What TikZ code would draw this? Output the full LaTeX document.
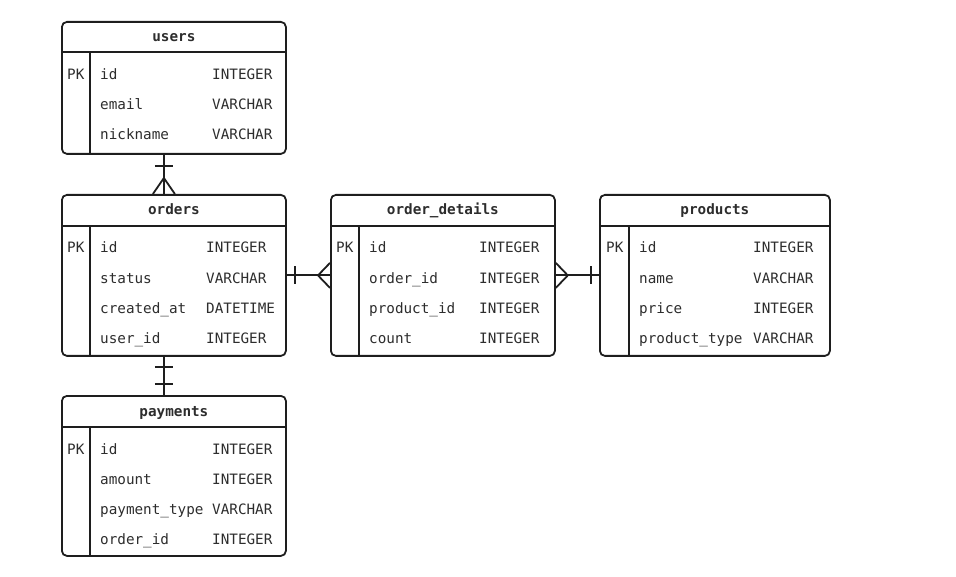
\documentclass[tikz,border=0pt]{standalone}
\usepackage{fontspec}
\usepackage{tikz}
\usetikzlibrary{calc,positioning}
\newfontfamily\ermono{DejaVu Sans Mono}
\definecolor{erline}{RGB}{30,30,30}
\definecolor{ertext}{RGB}{45,45,45}

\begin{document}
\begin{tikzpicture}[x=1pt, y=-1pt,
      tbl/.style={rectangle, rounded corners=5pt, draw=erline, line width=1.8pt, anchor=north west, minimum width=224pt, minimum height=161pt, inner sep=0pt},
      hdr/.style={font=\ermono\bfseries\fontsize{14.3}{16}\selectfont, text=ertext, anchor=base, inner sep=0pt},
      fld/.style={font=\ermono\fontsize{14.3}{16}\selectfont, text=ertext, anchor=base west, inner sep=0pt},
      ln/.style={draw=erline, line width=1.8pt}
    ]
      \useasboundingbox (0,0) rectangle (956,577);

      % users
      \node[tbl, minimum height=132pt] (users) at (61,21) {};
      \node[hdr] (users-h) at ($(users.north)+(0,21)$) {users};
      \draw[ln] ($(users.north west)+(0,31)$) coordinate (users-l) -- ++(224,0);
      \draw[ln] ($(users-l)+(29,0)$) -- (users.south west -| {$(users-l)+(29,0)$});
      \node[fld] (users-pk) at ($(users-l)+(6,28)$) {PK};
      \foreach \fname/\ftype [count=\i] in {id/INTEGER, email/VARCHAR, nickname/VARCHAR} {
        \node[fld] (users-f\i) at ($(users-l)+(39,28+30*\i-30)$) {\fname};
        \node[fld] (users-t\i) at ($(users-l)+(151,28+30*\i-30)$) {\ftype};
      }

      % orders
      \node[tbl] (orders) at (61,194) {};
      \node[hdr] (orders-h) at ($(orders.north)+(0,21)$) {orders};
      \draw[ln] ($(orders.north west)+(0,32)$) coordinate (orders-l) -- ++(224,0);
      \draw[ln] ($(orders-l)+(29,0)$) -- (orders.south west -| {$(orders-l)+(29,0)$});
      \node[fld] (orders-pk) at ($(orders-l)+(6,27)$) {PK};
      \foreach \fname/\ftype [count=\i] in {id/INTEGER, status/VARCHAR, created\_at/DATETIME, user\_id/INTEGER} {
        \node[fld] (orders-f\i) at ($(orders-l)+(39,27+30.3*\i-30.3)$) {\fname};
        \node[fld] (orders-t\i) at ($(orders-l)+(145,27+30.3*\i-30.3)$) {\ftype};
      }

      % order_details
      \node[tbl] (details) at (330,194) {};
      \node[hdr] (details-h) at ($(details.north)+(0,21)$) {order\_details};
      \draw[ln] ($(details.north west)+(0,32)$) coordinate (details-l) -- ++(224,0);
      \draw[ln] ($(details-l)+(29,0)$) -- (details.south west -| {$(details-l)+(29,0)$});
      \node[fld] (details-pk) at ($(details-l)+(6,27)$) {PK};
      \foreach \fname/\ftype [count=\i] in {id/INTEGER, order\_id/INTEGER, product\_id/INTEGER, count/INTEGER} {
        \node[fld] (details-f\i) at ($(details-l)+(39,27+30.3*\i-30.3)$) {\fname};
        \node[fld] (details-t\i) at ($(details-l)+(149,27+30.3*\i-30.3)$) {\ftype};
      }

      % products
      \node[tbl, minimum width=230pt] (products) at (599,194) {};
      \node[hdr] (products-h) at ($(products.north)+(0,21)$) {products};
      \draw[ln] ($(products.north west)+(0,32)$) coordinate (products-l) -- ++(230,0);
      \draw[ln] ($(products-l)+(30,0)$) -- (products.south west -| {$(products-l)+(30,0)$});
      \node[fld] (products-pk) at ($(products-l)+(7,27)$) {PK};
      \foreach \fname/\ftype [count=\i] in {id/INTEGER, name/VARCHAR, price/INTEGER, product\_type/VARCHAR} {
        \node[fld] (products-f\i) at ($(products-l)+(40,27+30.3*\i-30.3)$) {\fname};
        \node[fld] (products-t\i) at ($(products-l)+(154,27+30.3*\i-30.3)$) {\ftype};
      }

      % payments
      \node[tbl, minimum height=160pt] (payments) at (61,395) {};
      \node[hdr] (payments-h) at ($(payments.north)+(0,21)$) {payments};
      \draw[ln] ($(payments.north west)+(0,32)$) coordinate (payments-l) -- ++(224,0);
      \draw[ln] ($(payments-l)+(29,0)$) -- (payments.south west -| {$(payments-l)+(29,0)$});
      \node[fld] (payments-pk) at ($(payments-l)+(6,27)$) {PK};
      \foreach \fname/\ftype [count=\i] in {id/INTEGER, amount/INTEGER, payment\_type/VARCHAR, order\_id/INTEGER} {
        \node[fld] (payments-f\i) at ($(payments-l)+(39,27+30.3*\i-30.3)$) {\fname};
        \node[fld] (payments-t\i) at ($(payments-l)+(151,27+30.3*\i-30.3)$) {\ftype};
      }

      % Relations
      \coordinate (u-o1) at ($(users.south)+(-10,0)$);
      \coordinate (u-o2) at ($(orders.north)+(-10,0)$);
      \draw[ln] (u-o1) -- (u-o2);
      \draw[ln] ($(u-o1)+(-9,11)$) -- ++(18,0);
      \draw[ln] ($(u-o2)+(-11,0)$) -- ($(u-o2)+(0,-16)$) -- ($(u-o2)+(11,0)$);

      \draw[ln] (orders.east) -- (details.west);
      \draw[ln] ($(orders.east)+(8,-9)$) -- ++(0,18);
      \draw[ln] ($(details.west)+(0,-12.5)$) -- ($(details.west)+(-12,0)$) -- ($(details.west)+(0,12.5)$);

      \draw[ln] (details.east) -- (products.west);
      \draw[ln] ($(products.west)+(-8,-9)$) -- ++(0,18);
      \draw[ln] ($(details.east)+(0,-12.5)$) -- ($(details.east)+(12,0)$) -- ($(details.east)+(0,12.5)$);

      \coordinate (o-p1) at ($(orders.south)+(-10,0)$);
      \coordinate (o-p2) at ($(payments.north)+(-10,0)$);
      \draw[ln] (o-p1) -- (o-p2);
      \draw[ln] ($(o-p1)+(-9,10)$) -- ++(18,0);
      \draw[ln] ($(o-p2)+(-9,-11)$) -- ++(18,0);
    \end{tikzpicture}
\end{document}
